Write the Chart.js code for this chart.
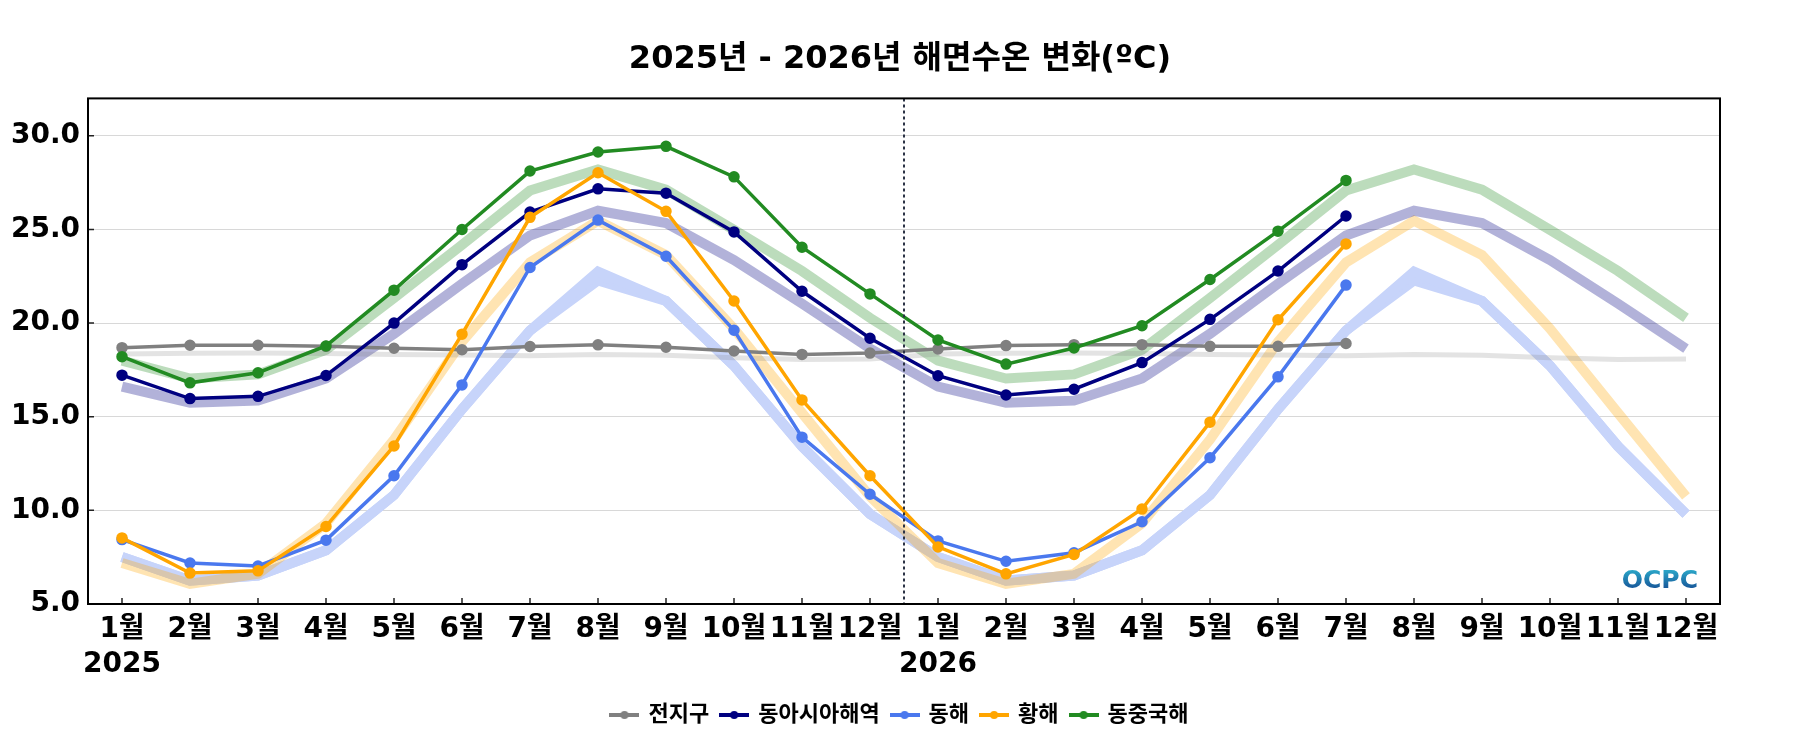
<!DOCTYPE html>
<html>
<head>
<meta charset="utf-8">
<script src="https://cdn.jsdelivr.net/npm/chart.js@4.4.1/dist/chart.umd.min.js"></script>
<style>
  body { margin: 0; background: #fff; }
</style>
</head>
<body>
<canvas id="sstChart" width="1800" height="750"></canvas>
<script>
const months = ['1월', '2월', '3월', '4월', '5월', '6월', '7월', '8월', '9월', '10월', '11월', '12월'];
const years = ['2025', '2026'];
const seriesNames = ['전지구', '동아시아해역', '동해', '황해', '동중국해'];

// 2025.1 ~ 2026.7 관측값
const globalSst = [18.69, 18.82, 18.82, 18.76, 18.66, 18.58, 18.75, 18.84, 18.71, 18.51, 18.33, 18.40,
  18.62, 18.80, 18.85, 18.85, 18.76, 18.76, 18.91];
const eastAsiaSst = [17.22, 15.97, 16.09, 17.20, 20.00, 23.12, 25.93, 27.17, 26.94, 24.87, 21.70, 19.19,
  17.19, 16.16, 16.47, 17.89, 20.20, 22.78, 25.72];
const eastSeaSst = [8.44, 7.19, 7.03, 8.41, 11.85, 16.70, 22.97, 25.50, 23.57, 19.62, 13.91, 10.86,
  8.37, 7.28, 7.74, 9.39, 12.81, 17.13, 22.03];
const yellowSeaSst = [8.53, 6.65, 6.77, 9.14, 13.44, 19.41, 25.65, 28.03, 25.97, 21.18, 15.90, 11.85,
  8.05, 6.61, 7.65, 10.07, 14.71, 20.18, 24.23];
const eastChinaSst = [18.21, 16.81, 17.35, 18.78, 21.76, 25.00, 28.12, 29.14, 29.44, 27.81, 24.05, 21.56,
  19.10, 17.81, 18.67, 19.86, 22.33, 24.91, 27.62];

// 평년값 (월별, 두 해 동일)
const globalClim = [18.35, 18.39, 18.40, 18.38, 18.33, 18.30, 18.26, 18.32, 18.28, 18.15, 18.06, 18.08];
const eastAsiaClim = [16.61, 15.75, 15.86, 17.04, 19.43, 22.10, 24.68, 26.00, 25.34, 23.37, 21.04, 18.64];
const eastSeaClimHi = [7.51, 6.25, 6.52, 7.87, 10.82, 15.40, 19.60, 22.75, 21.18, 17.72, 13.42, 9.80];
const eastSeaClimLo = [7.51, 6.25, 6.52, 7.87, 10.82, 15.40, 19.60, 22.28, 21.18, 17.72, 13.42, 9.80];
const yellowSeaClim = [7.19, 6.08, 6.61, 9.30, 13.78, 19.00, 23.24, 25.47, 23.64, 19.70, 15.20, 10.75];
const eastChinaClim = [18.00, 17.04, 17.26, 18.58, 21.34, 24.18, 27.08, 28.21, 27.13, 24.98, 22.78, 20.28];

const yTicks = [5, 10, 15, 20, 25, 30];

const colors = ['#808080', '#000080', '#4a78ee', '#ffa500', '#228b22'];
const bandColors = ['rgba(128,128,128,0.22)', 'rgba(0,0,128,0.3)', '#c7d4fa', 'rgba(255,165,0,0.3)', 'rgba(34,139,34,0.3)'];

const labels = years.flatMap((y) => months.map((m, i) => (i === 0 ? [m, y] : m)));
const twice = (arr) => arr.concat(arr);

const FONT = "'DejaVu Sans', 'Noto Sans CJK KR', sans-serif";

function legendIcon(color) {
  const c = document.createElement('canvas');
  c.width = 30;
  c.height = 12;
  const g = c.getContext('2d');
  g.strokeStyle = color;
  g.lineWidth = 4;
  g.beginPath();
  g.moveTo(0, 6);
  g.lineTo(30, 6);
  g.stroke();
  g.fillStyle = color;
  g.beginPath();
  g.arc(15, 6, 4, 0, Math.PI * 2);
  g.fill();
  return c;
}

const obs = [globalSst, eastAsiaSst, eastSeaSst, yellowSeaSst, eastChinaSst];
const lineSets = obs.map((d, i) => ({
  label: seriesNames[i],
  data: d,
  borderColor: colors[i],
  backgroundColor: colors[i],
  borderWidth: 3.5,
  pointRadius: 4,
  pointHoverRadius: 4,
  tension: 0,
  fill: false,
  order: 5 - i
}));

function band(data, color, order, extra) {
  return Object.assign({
    label: '',
    data: twice(data),
    borderColor: color,
    backgroundColor: color,
    borderWidth: 10,
    pointRadius: 0,
    pointHoverRadius: 0,
    tension: 0,
    fill: false,
    order: order
  }, extra || {});
}

const bandSets = [
  band(eastSeaClimHi, bandColors[2], 20, { fill: '+1' }),
  band(eastSeaClimLo, bandColors[2], 21),
  band(yellowSeaClim, bandColors[3], 19),
  band(eastAsiaClim, bandColors[1], 18),
  band(eastChinaClim, bandColors[4], 17),
  band(globalClim, bandColors[0], 16, { borderWidth: 5 })
];

const framePlugin = {
  id: 'frame',
  afterDatasetsDraw(chart) {
    const { ctx, chartArea: a, scales: { x } } = chart;
    // 연도 경계 점선
    const xb = (x.getPixelForValue(11) + x.getPixelForValue(12)) / 2;
    ctx.save();
    ctx.strokeStyle = '#2b3245';
    ctx.lineWidth = 2;
    ctx.setLineDash([3, 3]);
    ctx.beginPath();
    ctx.moveTo(xb, a.top);
    ctx.lineTo(xb, a.bottom);
    ctx.stroke();
    ctx.restore();
  },
  afterDraw(chart) {
    const { ctx, chartArea: a, scales: { x, y } } = chart;
    ctx.save();
    // 안쪽 눈금
    ctx.strokeStyle = '#222';
    ctx.lineWidth = 1.5;
    ctx.beginPath();
    x.ticks.forEach((t, i) => {
      const px = x.getPixelForTick(i);
      ctx.moveTo(px, a.bottom);
      ctx.lineTo(px, a.bottom - 6);
    });
    y.ticks.forEach((t, i) => {
      const py = y.getPixelForTick(i);
      ctx.moveTo(a.left, py);
      ctx.lineTo(a.left + 6, py);
    });
    ctx.stroke();
    // 테두리
    ctx.strokeStyle = '#000';
    ctx.lineWidth = 2;
    ctx.strokeRect(a.left, a.top, a.right - a.left, a.bottom - a.top);
    // 로고
    ctx.font = 'bold 25px ' + FONT;
    ctx.textAlign = 'right';
    ctx.textBaseline = 'bottom';
    const grad = ctx.createLinearGradient(0, a.bottom - 34, 0, a.bottom - 10);
    grad.addColorStop(0, '#2aa6c8');
    grad.addColorStop(1, '#123f8c');
    ctx.fillStyle = grad;
    ctx.fillText('OCPC', a.right - 22, a.bottom - 10);
    ctx.restore();
  }
};

new Chart(document.getElementById('sstChart'), {
  type: 'line',
  data: {
    labels: labels,
    datasets: lineSets.concat(bandSets)
  },
  options: {
    responsive: false,
    animation: false,
    layout: { padding: { left: 0, right: 0, top: 0, bottom: 14 } },
    plugins: {
      title: {
        display: true,
        text: '2025년 - 2026년 해면수온 변화(ºC)',
        color: '#000',
        font: { family: FONT, size: 32, weight: 'bold' },
        padding: { top: 40, bottom: 20 }
      },
      legend: {
        position: 'bottom',
        labels: {
          usePointStyle: true,
          pointStyleWidth: 26,
          color: '#000',
          padding: 12,
          font: { family: FONT, size: 22, weight: 'bold' },
          generateLabels: () => seriesNames.map((name, i) => ({
            text: name,
            datasetIndex: i,
            pointStyle: legendIcon(colors[i]),
            fillStyle: colors[i],
            strokeStyle: colors[i],
            lineWidth: 0,
            fontColor: '#000',
            hidden: false
          }))
        }
      },
      tooltip: { enabled: false }
    },
    scales: {
      x: {
        offset: true,
        grid: { display: false, drawTicks: false },
        border: { display: false },
        afterFit: (s) => { s.height = 88; },
        ticks: {
          autoSkip: false,
          maxRotation: 0,
          padding: 8,
          color: '#000',
          font: { family: FONT, size: 28, weight: 'bold', lineHeight: 1.25 }
        }
      },
      y: {
        min: 5,
        max: 32,
        afterFit: (s) => { s.width = 88; },
        afterBuildTicks: (s) => { s.ticks = yTicks.map((v) => ({ value: v })); },
        grid: { color: '#d8d8d8', lineWidth: 1, drawTicks: false },
        border: { display: false },
        ticks: {
          padding: 8,
          color: '#000',
          font: { family: FONT, size: 28, weight: 'bold' },
          callback: (v) => v.toFixed(1)
        }
      },
      // 오른쪽 여백용 빈 축
      yRight: {
        type: 'linear',
        position: 'right',
        min: 5,
        max: 32,
        afterFit: (s) => { s.width = 80; },
        grid: { display: false, drawTicks: false },
        border: { display: false },
        ticks: { display: false }
      }
    }
  },
  plugins: [framePlugin]
});
</script>
</body>
</html>
